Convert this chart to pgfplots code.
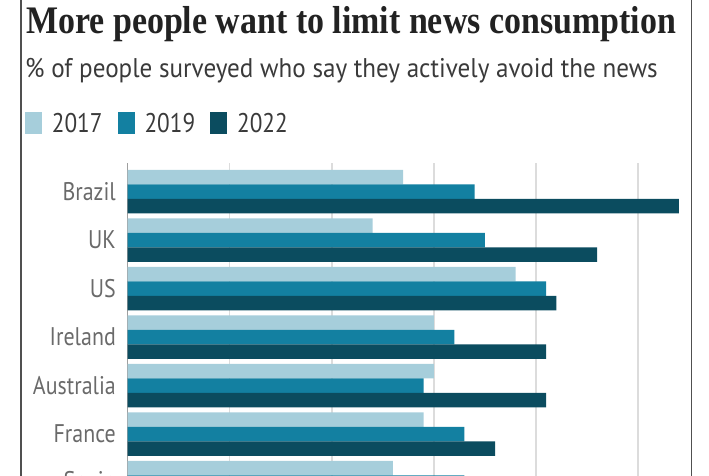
\documentclass[border=0pt]{standalone}
\usepackage{pgfplots}
\pgfplotsset{compat=1.18}
\usepackage{fontspec}
\setmainfont{PT Sans}
\newfontfamily\titlefamily[FakeStretch=0.87]{Liberation Serif}
\newfontfamily\sansfamily[FakeStretch=0.86]{PT Sans}
\newfontfamily\subfamily[FakeStretch=0.93]{PT Sans}
\definecolor{c17}{HTML}{A6CEDB}
\definecolor{c19}{HTML}{1380A1}
\definecolor{c22}{HTML}{0B4C5F}
\definecolor{titlecol}{HTML}{222222}
\definecolor{subcol}{HTML}{3A3A3A}
\definecolor{labcol}{HTML}{6A6A6A}
\definecolor{gridcol}{HTML}{DCDCDC}
\definecolor{framecol}{HTML}{505050}
\begin{document}
\begin{tikzpicture}
\useasboundingbox (0pt,0pt) rectangle (709pt,-476pt);
\clip (0pt,0pt) rectangle (709pt,-476pt);
\draw[framecol, line width=1.3pt] (21pt,0pt) -- (21pt,-476pt);
\draw[framecol, line width=1.3pt] (691.5pt,0pt) -- (691.5pt,-476pt);
\node[anchor=base west, inner sep=0pt, text=titlecol, font={\titlefamily\bfseries\fontsize{39}{42}\selectfont}] at (26pt,-34pt) {More people want to limit news consumption};
\node[anchor=base west, inner sep=0pt, text=subcol, font={\subfamily\fontsize{27}{30}\selectfont}] at (25pt,-78pt) {\% of people surveyed who say they actively avoid the news};
\begin{axis}[
  at={(127.5pt,-163pt)}, anchor=north west,
  scale only axis,
  width=561.6pt, height=339pt,
  xmin=0, xmax=55,
  ymin=-0.59, ymax=6.4,
  y dir=reverse,
  xbar, bar width=0.3,
  axis x line*=bottom,
  x axis line style={draw=none},
  axis y line*=left,
  y axis line style={-, draw=gray!75, line width=1.2pt},
  xtick={0,10,20,30,40,50},
  xticklabel=\empty,
  xmajorgrids,
  major grid style={draw=gridcol, line width=1.6pt},
  ytick={0,1,2,3,4,5,6},
  yticklabels={Brazil,UK,US,Ireland,Australia,France,Spain},
  major tick length=0pt,
  yticklabel style={font={\sansfamily\fontsize{25.5}{28}\selectfont}, text=labcol, inner sep=0pt, xshift=-11.5pt},
  legend columns=3,
  legend cell align=left,
  legend style={at={(axis description cs:-0.183,1.1504)}, anchor=north west, draw=none, fill=none, inner sep=0pt,
    font={\sansfamily\fontsize{27}{30}\selectfont}, text=subcol,
    nodes={inner sep=0pt, text depth=0pt},
    /tikz/every odd column/.append style={column sep=10pt},
    /tikz/every even column/.append style={column sep=15pt}},
]
\addplot[fill=c17, draw=none, bar shift=-0.3, legend image code/.code={\fill[c17] (0pt,-11pt) rectangle (17pt,11pt);}] coordinates {(27,0) (24,1) (38,2) (30,3) (30,4) (29,5) (26,6)};
\addlegendentry{2017}
\addplot[fill=c19, draw=none, bar shift=0, legend image code/.code={\fill[c19] (0pt,-11pt) rectangle (17pt,11pt);}] coordinates {(34,0) (35,1) (41,2) (32,3) (29,4) (33,5) (33,6)};
\addlegendentry{2019}
\addplot[fill=c22, draw=none, bar shift=0.3, legend image code/.code={\fill[c22] (0pt,-11pt) rectangle (17pt,11pt);}] coordinates {(54,0) (46,1) (42,2) (41,3) (41,4) (36,5)};
\addlegendentry{2022}
\end{axis}
\end{tikzpicture}
\end{document}
